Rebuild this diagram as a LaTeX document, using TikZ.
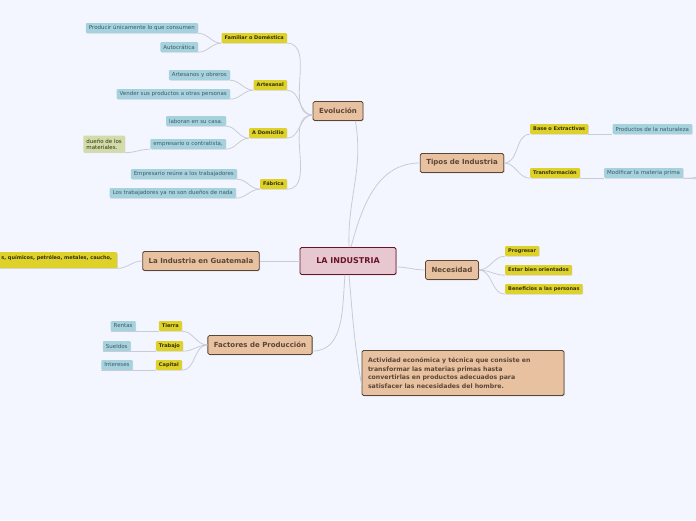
\documentclass[tikz,border=0pt]{standalone}
\usepackage{fontspec}
\setmainfont{DejaVu Sans}
\usepackage{xcolor}
\usetikzlibrary{positioning, shadows}
\definecolor{bgblue}{RGB}{243, 246, 254}
\definecolor{linkgray}{RGB}{200, 204, 214}
\definecolor{rootfill}{RGB}{232, 200, 208}
\definecolor{rootline}{RGB}{106, 18, 40}
\definecolor{mainfill}{RGB}{232, 193, 160}
\definecolor{mainline}{RGB}{90, 70, 54}
\definecolor{subfill}{RGB}{222, 210, 42}
\definecolor{subtext}{RGB}{50, 48, 10}
\definecolor{leaffill}{RGB}{166, 210, 222}
\definecolor{leaftext}{RGB}{62, 90, 102}
\definecolor{notefill}{RGB}{210, 220, 170}
\newcommand\fsroot{\fontsize{8}{9}\selectfont}
\newcommand\fsmain{\fontsize{7}{8}\selectfont}
\newcommand\fssub{\fontsize{5}{6}\selectfont}
\newcommand\fsleaf{\fontsize{5.5}{6.2}\selectfont}
\newcommand\fsdesc{\fontsize{6.2}{8.8}\selectfont}

\begin{document}
\begin{tikzpicture}[x=1pt, y=-1pt,
        root/.style={rectangle, rounded corners=1.5pt, draw=rootline, fill=rootfill, line width=0.9pt, text=rootline, font=\fsroot\bfseries, minimum width=96pt, minimum height=27pt, drop shadow={opacity=0.3, shadow xshift=0.8pt, shadow yshift=-0.8pt}},
        topic/.style={rectangle, rounded corners=1.5pt, draw=mainline, fill=mainfill, line width=0.8pt, text=mainline, font=\fsmain\bfseries, minimum height=19pt, inner xsep=6pt, drop shadow={opacity=0.3, shadow xshift=0.8pt, shadow yshift=-0.8pt}},
        sub/.style={rectangle, rounded corners=1pt, fill=subfill, text=subtext, font=\fssub\bfseries, minimum height=10pt, inner xsep=3pt, inner ysep=1pt, drop shadow={opacity=0.25, shadow xshift=0.6pt, shadow yshift=-0.6pt}},
        leaf/.style={rectangle, rounded corners=1pt, fill=leaffill, text=leaftext, font=\fsleaf, minimum height=10pt, inner xsep=3pt, inner ysep=1pt, drop shadow={opacity=0.25, shadow xshift=0.6pt, shadow yshift=-0.6pt}},
        link/.style={draw=linkgray, line width=0.8pt}
    ]
        \useasboundingbox[fill=bgblue] (0,0) rectangle (696,520);

        % Centre and topics
        \node (root) [root] at (348,261) {LA INDUSTRIA};
        \node (evo) [topic] at (338,111) {Evolución};
        \node (tipos) [topic] at (462,163) {Tipos de Industria};
        \node (nec) [topic] at (452,270) {Necesidad};
        \node (guat) [topic] at (201,261) {La Industria en Guatemala};
        \node (fact) [topic] at (260,345) {Factores de Producción};
        \node (desc) [topic, align=left, text width=190pt, font=\fsdesc\bfseries, minimum width=201pt, minimum height=45pt] at (463,373)
            {Actividad económica y técnica que consiste en\\transformar las materias primas hasta\\convertirlas en productos adecuados para\\satisfacer las necesidades del hombre.};

        % Evolucion
        \node (fam) [sub, anchor=east] at (287,38) {Familiar o Doméstica};
        \node (art) [sub, anchor=east] at (287,85) {Artesanal};
        \node (dom) [sub, anchor=east] at (287,133) {A Domicilio};
        \node (fab) [sub, anchor=east] at (287,184) {Fábrica};
        \node (prod) [leaf, anchor=east] at (198,28) {Producir únicamente lo que consumen};
        \node (auto) [leaf, anchor=east] at (198,47) {Autocrática};
        \node (obre) [leaf, anchor=east] at (230,75) {Artesanos y obreros};
        \node (vend) [leaf, anchor=east] at (230,94) {Vender sus productos a otras personas};
        \node (casa) [leaf, anchor=east] at (226,121) {laboran en su casa.};
        \node (empr) [leaf, anchor=east] at (226,144) {empresario o contratista,};
        \node (duen) [leaf, fill=notefill, text=subtext, align=left, minimum height=17pt, anchor=east] at (125,144) {dueño de los\\materiales.};
        \node (reun) [leaf, anchor=east] at (237,174) {Empresario reúne a los trabajadores};
        \node (nada) [leaf, anchor=east] at (236,193) {Los trabajadores ya no son dueños de nada};

        % Tipos de industria
        \node (base) [sub, anchor=west] at (530,129) {Base o Extractivas};
        \node (trans) [sub, anchor=west] at (530,173) {Transformación};
        \node (natu) [leaf, right=24pt of base] {Productos de la naturaleza};
        \node (modi) [leaf, right=24pt of trans] {Modificar la materia prima};
        \coordinate (offa) at (706,150);
        \coordinate (offb) at (706,205);

        % Necesidad
        \node (prog) [sub, anchor=west] at (505,251) {Progresar};
        \node (orie) [sub, anchor=west] at (505,270) {Estar bien orientados};
        \node (bene) [sub, anchor=west] at (505,289) {Beneficios a las personas};

        % Guatemala
        \node (mat) [sub, anchor=north west, minimum width=121pt, minimum height=16pt, text depth=6pt, inner xsep=5pt, align=left] at (-4,252) {s, químicos, petróleo, metales, caucho,};

        % Factores
        \node (tier) [sub, anchor=east] at (182,326) {Tierra};
        \node (trab) [sub, anchor=east] at (183,346) {Trabajo};
        \node (capi) [sub, anchor=east] at (182,365) {Capital};
        \node (rent) [leaf, left=23pt of tier] {Rentas};
        \node (suel) [leaf, left=25pt of trab] {Sueldos};
        \node (inte) [leaf, left=23pt of capi] {Intereses};

        % Links from the centre
        \draw [link] ([xshift=1pt]root.north) to[out=92, in=-80] ([xshift=-8pt]evo.south east);
        \draw [link] ([xshift=3pt]root.north) to[out=75, in=180] (tipos.west);
        \draw [link] ([yshift=-6pt]root.east) to[out=0, in=180] (nec.west);
        \draw [link] (root.west) -- (guat.east);
        \draw [link] ([xshift=-3pt]root.south) to[out=-95, in=0] ([yshift=-6pt]fact.east);
        \draw [link] ([xshift=1pt]root.south) to[out=-85, in=100] ([yshift=-12pt]desc.west);

        % Links of the topics
        \foreach \c in {fam, art, dom, fab}
            \draw [link] ([yshift=-4pt]evo.west) to[out=180, in=0] (\c.south east);
        \draw [link] (fam.south west) to[out=180, in=0] (prod.south east);
        \draw [link] (fam.south west) to[out=180, in=0] (auto.south east);
        \draw [link] (art.south west) to[out=180, in=0] (obre.south east);
        \draw [link] (art.south west) to[out=180, in=0] (vend.south east);
        \draw [link] (dom.south west) to[out=180, in=0] (casa.south east);
        \draw [link] (dom.south west) to[out=180, in=0] (empr.south east);
        \draw [link] (empr.south west) to[out=180, in=0] (duen.south east);
        \draw [link] (fab.south west) to[out=180, in=0] (reun.south east);
        \draw [link] (fab.south west) to[out=180, in=0] (nada.south east);

        \draw [link] (tipos.east) to[out=0, in=180] (base.south west);
        \draw [link] (tipos.east) to[out=0, in=180] (trans.south west);
        \draw [link] (base.south east) -- (natu.south west);
        \draw [link] (trans.south east) -- (modi.south west);
        \draw [link] (modi.south east) -- ++(8,0) to[out=0, in=-90] (offa);
        \draw [link] (modi.south east) -- ++(8,0) to[out=0, in=90] (offb);

        \foreach \c in {prog, orie, bene}
            \draw [link] (nec.east) to[out=0, in=180] (\c.south west);

        \draw [link] (guat.west) to[out=180, in=0] (mat.south east);

        \foreach \c in {tier, trab, capi}
            \draw [link] (fact.west) to[out=180, in=0] (\c.south east);
        \draw [link] (tier.south west) -- (rent.south east) -- (rent.south west);
        \draw [link] (trab.south west) -- (suel.south east) -- (suel.south west);
        \draw [link] (capi.south west) -- (inte.south east) -- (inte.south west);

    \end{tikzpicture}
\end{document}
